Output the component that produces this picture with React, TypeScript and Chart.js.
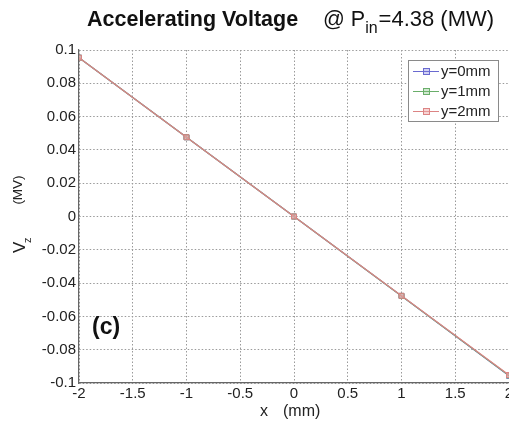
import React, { useEffect, useRef } from "react";
import { Chart, registerables } from "chart.js";

Chart.register(...registerables);

const xValues = [-2, -1, 0, 1, 2];
const seriesY0 = [0.0954, 0.0476, 0, -0.0477, -0.0957];
const seriesY1 = [0.0954, 0.0476, 0, -0.0477, -0.0955];
const seriesY2 = [0.0954, 0.0476, 0, -0.0476, -0.0952];
const seriesNames = ["y=0mm", "y=1mm", "y=2mm"];
const seriesColors = ["#6a6ad0", "#6aae6a", "#dc8484"];
const seriesFills = ["rgba(120,120,220,0.35)", "rgba(120,190,120,0.35)", "rgba(240,170,170,0.5)"];
const xTickValues = [-2, -1.5, -1, -0.5, 0, 0.5, 1, 1.5, 2];
const xTickLabels = ["-2", "-1.5", "-1", "-0.5", "0", "0.5", "1", "1.5", "2"];
const yTickValues = [0.1, 0.08, 0.06, 0.04, 0.02, 0, -0.02, -0.04, -0.06, -0.08, -0.1];
const yTickLabels = ["0.1", "0.08", "0.06", "0.04", "0.02", "0", "-0.02", "-0.04", "-0.06", "-0.08", "-0.1"];

const FONT = '"Liberation Sans", Arial, Helvetica, sans-serif';

function labelFor(values: number[], labels: string[], v: number): string {
  for (let i = 0; i < values.length; i++) {
    if (Math.abs(values[i] - v) < 1e-9) return labels[i];
  }
  return "";
}

const decorPlugin = {
  id: "decor",
  beforeDraw(chart: any) {
    const ctx = chart.ctx;
    ctx.save();
    ctx.fillStyle = "#ffffff";
    ctx.fillRect(0, 0, chart.width, chart.height);
    ctx.restore();
  },
  afterDraw(chart: any) {
    const ctx = chart.ctx;
    ctx.save();
    ctx.fillStyle = "#111";
    ctx.textBaseline = "alphabetic";
    ctx.textAlign = "left";
    // Title
    ctx.font = `bold 21.5px ${FONT}`;
    ctx.fillText("Accelerating Voltage", 87, 26);
    ctx.font = `21.5px ${FONT}`;
    let x = 323;
    ctx.fillText("@ P", x, 26);
    x += ctx.measureText("@ P").width;
    ctx.font = `16px ${FONT}`;
    ctx.fillText("in", x, 33);
    x += ctx.measureText("in").width + 1;
    ctx.font = `22px ${FONT}`;
    ctx.fillText("=4.38 (MW)", x, 26);

    // x axis title
    ctx.font = `16px ${FONT}`;
    ctx.fillStyle = "#222";
    ctx.fillText("x", 260, 416);
    ctx.fillText("(mm)", 283, 416);

    // y axis title (rotated)
    ctx.save();
    ctx.translate(25, 0);
    ctx.rotate(-Math.PI / 2);
    ctx.font = `17px ${FONT}`;
    ctx.fillText("V", -253, 0);
    ctx.font = `11px ${FONT}`;
    ctx.fillText("z", -243, 6);
    ctx.font = `13.5px ${FONT}`;
    ctx.textAlign = "center";
    ctx.fillText("(MV)", -190, -3);
    ctx.restore();

    // panel tag
    ctx.font = `bold 23px ${FONT}`;
    ctx.fillStyle = "#111";
    ctx.textAlign = "left";
    ctx.fillText("(c)", 92, 334);

    // legend
    const lx = 408, ly = 60, lw = 90, lh = 61;
    ctx.fillStyle = "#ffffff";
    ctx.fillRect(lx, ly, lw, lh);
    ctx.strokeStyle = "#8a8a8a";
    ctx.lineWidth = 1;
    ctx.strokeRect(lx + 0.5, ly + 0.5, lw, lh);
    const rows = [71, 91, 111];
    chart.data.datasets.forEach((ds: any, i: number) => {
      const ry = rows[i];
      ctx.strokeStyle = ds.borderColor;
      ctx.lineWidth = 1;
      ctx.beginPath();
      ctx.moveTo(413, ry + 0.5);
      ctx.lineTo(439, ry + 0.5);
      ctx.stroke();
      ctx.fillStyle = ds.pointBackgroundColor;
      ctx.fillRect(423, ry - 3, 7, 7);
      ctx.strokeRect(423.5, ry - 2.5, 6, 6);
      ctx.fillStyle = "#222";
      ctx.font = `15px ${FONT}`;
      ctx.textBaseline = "middle";
      ctx.fillText(ds.label, 441, ry + 1);
    });
    ctx.restore();
  },
};

export default function App() {
  const ref = useRef<HTMLCanvasElement | null>(null);
  useEffect(() => {
    if (!ref.current) return;
    const all = [seriesY0, seriesY1, seriesY2];
    const datasets = all.map((ys, i) => ({
      label: seriesNames[i],
      data: xValues.map((xv, j) => ({ x: xv, y: ys[j] })),
      borderColor: seriesColors[i],
      backgroundColor: seriesFills[i],
      pointBackgroundColor: seriesFills[i],
      pointBorderColor: seriesColors[i],
      borderWidth: 1.2,
      pointStyle: "rect",
      pointRadius: 3.5,
      pointBorderWidth: 1,
      tension: 0,
      order: 2 - i,
    }));
    const chart = new Chart(ref.current, {
      type: "line",
      data: { datasets },
      options: {
        animation: false,
        responsive: false,
        devicePixelRatio: 1,
        layout: { padding: { left: 0, top: 50, right: 24, bottom: 0 } },
        plugins: { legend: { display: false }, tooltip: { enabled: false }, title: { display: false } },
        scales: {
          x: {
            type: "linear",
            min: -2,
            max: 2,
            afterFit: (s: any) => { s.height = 41; },
            afterBuildTicks: (s: any) => { s.ticks = xTickValues.map((v) => ({ value: v })); },
            ticks: {
              autoSkip: false,
              maxRotation: 0,
              padding: 2,
              color: "#222",
              font: { family: FONT, size: 15 },
              callback: (v: any) => labelFor(xTickValues, xTickLabels, Number(v)),
            },
            grid: { color: "#9a9a9a", lineWidth: 1, tickLength: 0 },
            border: { display: true, color: "#666", width: 1.2, dash: [1.5, 2] },
          },
          y: {
            type: "linear",
            min: -0.1,
            max: 0.1,
            afterFit: (s: any) => { s.width = 79; },
            afterBuildTicks: (s: any) => { s.ticks = yTickValues.map((v) => ({ value: v })); },
            ticks: {
              autoSkip: false,
              padding: 3,
              color: "#222",
              font: { family: FONT, size: 15 },
              callback: (v: any) => labelFor(yTickValues, yTickLabels, Number(v)),
            },
            grid: { color: "#9a9a9a", lineWidth: 1, tickLength: 0 },
            border: { display: true, color: "#666", width: 1.2, dash: [1.5, 2] },
          },
        },
      },
      plugins: [decorPlugin],
    } as any);
    return () => chart.destroy();
  }, []);
  return (
    <div style={{ position: "fixed", left: 0, top: 0, width: 509, height: 424, overflow: "hidden", background: "#fff" }}>
      <canvas ref={ref} width={533} height={424} style={{ display: "block", width: 533, height: 424 }} />
    </div>
  );
}
